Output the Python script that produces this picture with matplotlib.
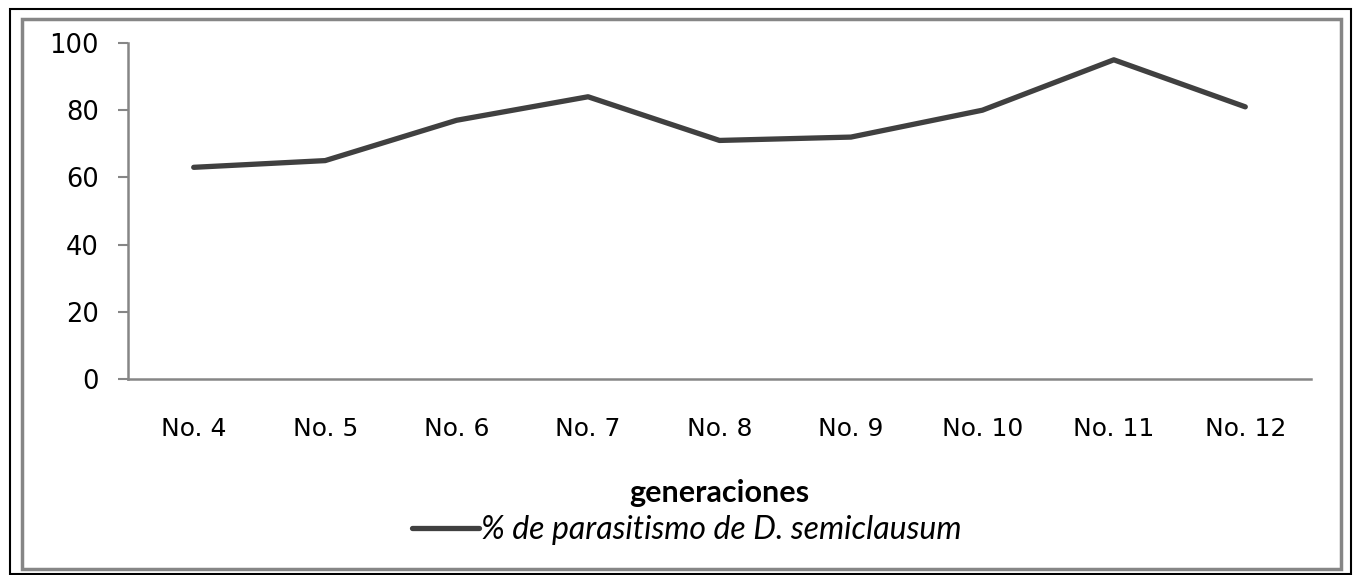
import matplotlib
matplotlib.use("Agg")
import matplotlib.pyplot as plt
from matplotlib.patches import Rectangle
from matplotlib.lines import Line2D

plt.rcParams["font.family"] = ["DejaVu Sans"]

GENERATIONS = ["No. 4", "No. 5", "No. 6", "No. 7", "No. 8", "No. 9", "No. 10", "No. 11", "No. 12"]
PARASITISM = [63, 65, 77, 84, 71, 72, 80, 95, 81]
Y_TICKS = [0, 20, 40, 60, 80, 100]

LINE_COLOR = "#404040"
AXIS_COLOR = "#868686"
TEXT_FONT = ["Lato", "Open Sans", "DejaVu Sans"]

fig = plt.figure(figsize=(13.58, 5.75), dpi=100)
W, H = 1358, 575

# outer black frame and inner gray chart-area frame
fig.add_artist(Rectangle((9.5 / W, 1 - 573.5 / H), 1341 / W, 565 / H, transform=fig.transFigure,
                         fill=False, edgecolor="black", linewidth=1.5))
fig.add_artist(Rectangle((22 / W, 1 - 569 / H), 1319 / W, 550 / H, transform=fig.transFigure,
                         fill=False, edgecolor=AXIS_COLOR, linewidth=2.5))

ax = fig.add_axes([128 / W, 1 - 379 / H, (1311 - 128) / W, (379 - 43) / H])
x = list(range(len(GENERATIONS)))
ax.plot(x, PARASITISM, color=LINE_COLOR, linewidth=3.8, solid_capstyle="round", solid_joinstyle="round")

ax.set_xlim(-0.5, len(GENERATIONS) - 0.5)
ax.set_ylim(0, 100)
ax.set_yticks(Y_TICKS)
ax.set_xticks(x)
ax.set_xticklabels(GENERATIONS)
ax.tick_params(axis="y", direction="out", length=7, width=1.5, color=AXIS_COLOR, labelsize=18.5, pad=14)
ax.tick_params(axis="x", length=0, labelsize=18, pad=27)

for side in ["top", "right"]:
    ax.spines[side].set_visible(False)
for side in ["left", "bottom"]:
    ax.spines[side].set_color(AXIS_COLOR)
    ax.spines[side].set_linewidth(1.8)

ax.set_xlabel("generaciones", fontsize=22, fontweight="bold", family=TEXT_FONT, labelpad=28)

handle = Line2D([], [], color=LINE_COLOR, linewidth=3.8, solid_capstyle="round")
fig.legend([handle], ["% de parasitismo de D. semiclausum"], loc="center",
           bbox_to_anchor=(687 / W, 1 - 530 / H), frameon=False, handlelength=2.1,
           handletextpad=0.05, prop={"size": 23, "style": "italic", "family": TEXT_FONT})

fig.savefig("out.png", dpi=100)
